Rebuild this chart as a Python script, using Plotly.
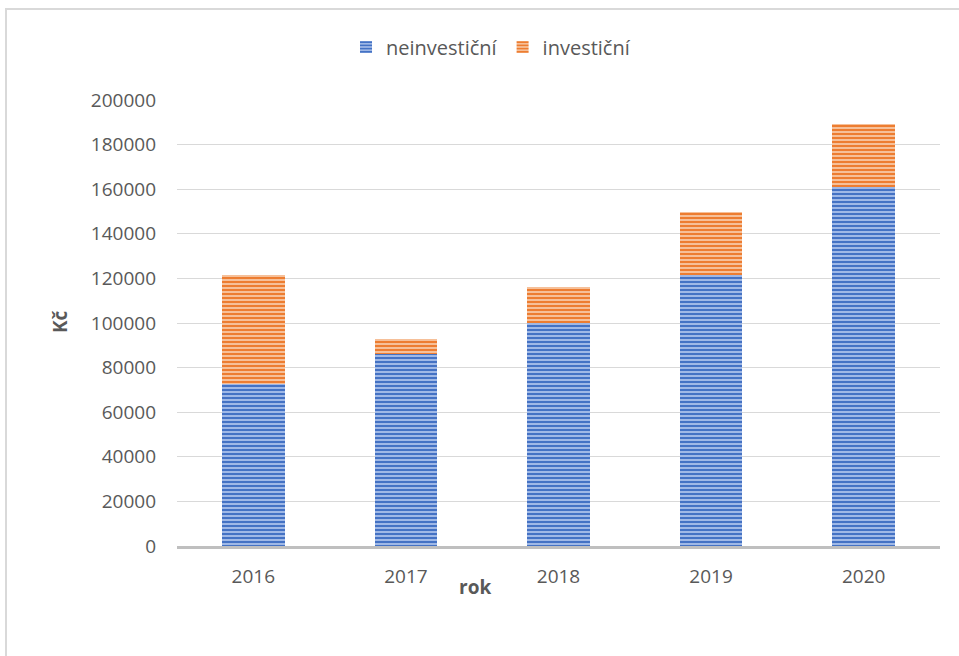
import plotly.graph_objects as go

years = ["2016", "2017", "2018", "2019", "2020"]
neinvesticni = [72600, 86300, 100000, 121500, 161000]
investicni = [48900, 6500, 16000, 28500, 28200]
y_ticks = [0, 20000, 40000, 60000, 80000, 100000, 120000, 140000, 160000, 180000, 200000]

W, H = 959, 656
L, R, T, B = 177, 19, 100, 110
pw = W - L - R
ph = H - T - B

fig = go.Figure()
fig.add_trace(go.Bar(
    x=years, y=neinvesticni, name="neinvestiční",
    marker=dict(color="#9DB5E6", line=dict(width=0),
                pattern=dict(shape="-", fgcolor="#4472C4", bgcolor="#A9C0EA",
                             size=4, solidity=0.55, fillmode="replace")),
))
fig.add_trace(go.Bar(
    x=years, y=investicni, name="investiční",
    marker=dict(color="#F6BE94", line=dict(width=0),
                pattern=dict(shape="-", fgcolor="#ED7D31", bgcolor="#F8C8A4",
                             size=4, solidity=0.55, fillmode="replace")),
))

fig.update_layout(
    width=W, height=H,
    barmode="stack", bargap=0.59,
    paper_bgcolor="white", plot_bgcolor="white",
    margin=dict(l=L, r=R, t=T, b=B),
    font=dict(family="Open Sans, Liberation Sans, sans-serif", size=19, color="#595959"),
    legend=dict(orientation="h", xref="container", x=0.512, xanchor="center",
                yref="container", y=1 - 47 / H, yanchor="middle",
                font=dict(size=20, color="#595959"), itemwidth=30, traceorder="normal"),
    xaxis=dict(showline=True, linecolor="#BFBFBF", linewidth=3, ticks="",
               showgrid=False, tickfont=dict(size=19, color="#595959"),
               ticklabelstandoff=11),
    yaxis=dict(range=[0, 200000], tickvals=y_ticks, ticktext=[str(v) for v in y_ticks],
               showgrid=True, gridcolor="#D9D9D9", gridwidth=1, zeroline=False,
               showline=False, ticks="", ticklabelstandoff=20,
               tickfont=dict(size=19, color="#595959")),
    annotations=[
        dict(text="<b>rok</b>", xref="paper", yref="paper",
             x=(475 - L) / pw, y=(H - B - 587) / ph, xanchor="center", yanchor="middle",
             showarrow=False, font=dict(size=19, color="#595959")),
        dict(text="<b>Kč</b>", xref="paper", yref="paper", textangle=-90,
             x=(60 - L) / pw, y=(H - B - 322) / ph, xanchor="center", yanchor="middle",
             showarrow=False, font=dict(size=19, color="#595959")),
    ],
    shapes=[dict(type="rect", xref="paper", yref="paper",
                 x0=(6 - L) / pw, x1=(W + 20 - L) / pw,
                 y0=-(H + 20 - T - ph) / ph, y1=(H - B - 9) / ph,
                 line=dict(color="#D9D9D9", width=2), fillcolor="rgba(0,0,0,0)", layer="below")],
)

fig.write_html("out.html", post_script="document.body.style.margin='0';",
               config={"displayModeBar": False})
